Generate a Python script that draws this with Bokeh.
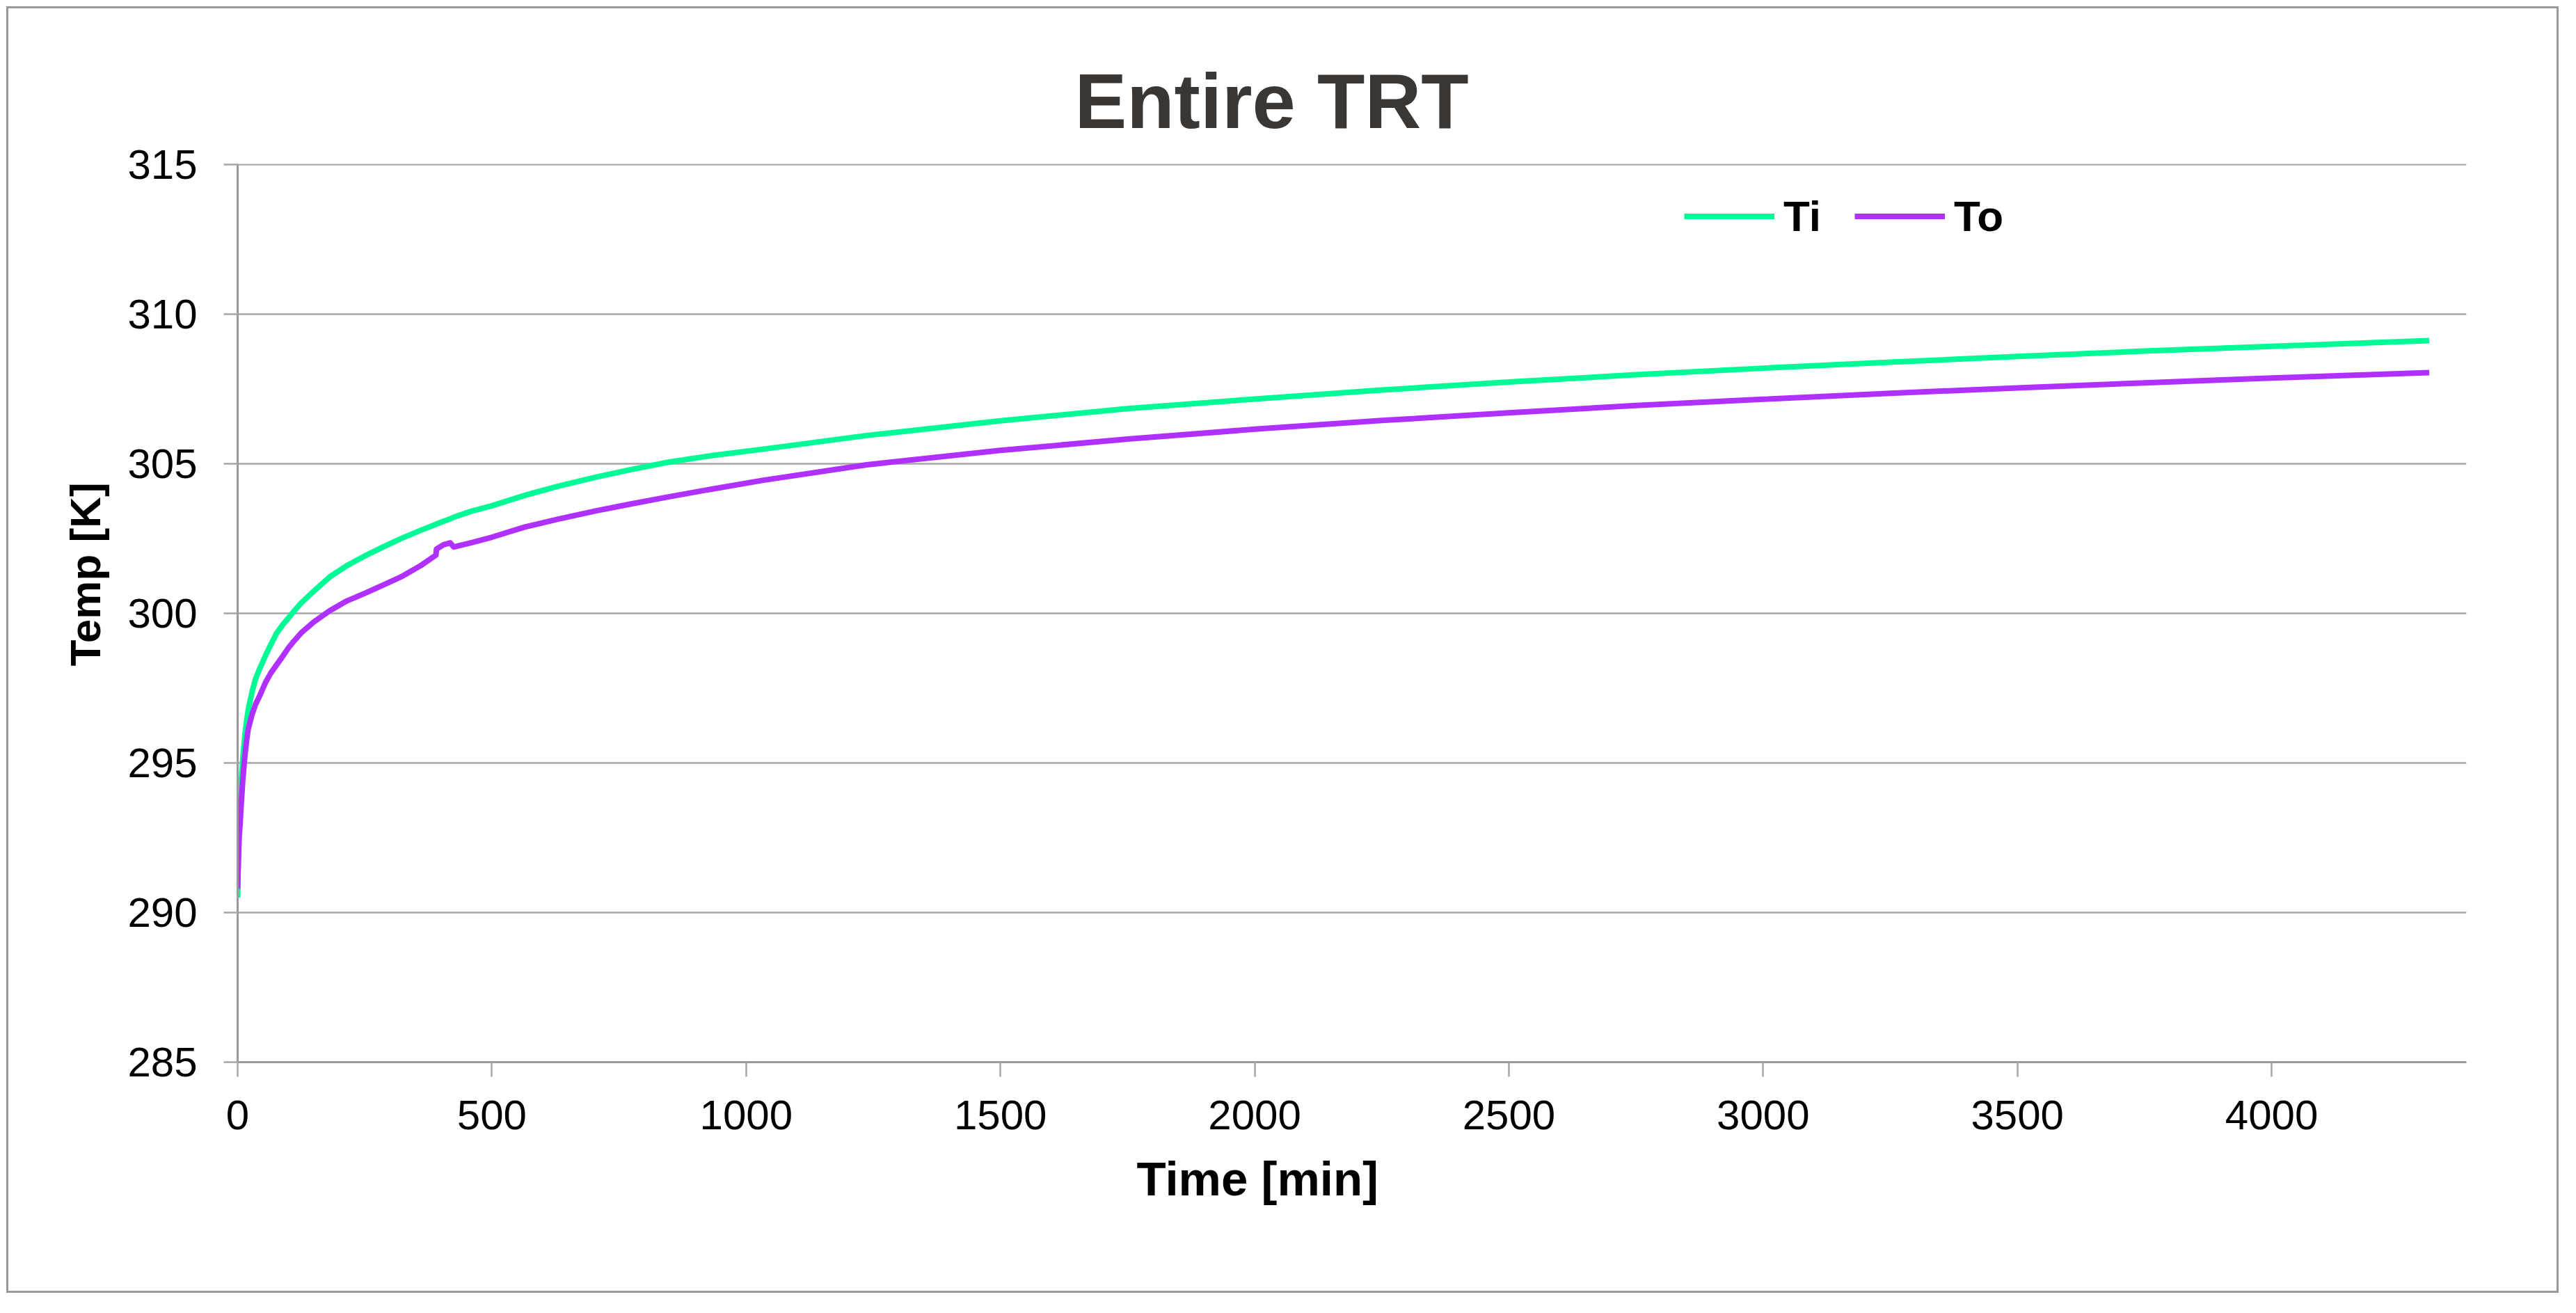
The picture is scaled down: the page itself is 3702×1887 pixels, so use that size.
from bokeh.plotting import figure
from bokeh.models import Range1d, Legend, LegendItem, Title
from bokeh.embed import file_html
from bokeh.resources import INLINE

# ---- data ----
time_min = [0, 1, 2, 3, 5, 7, 10, 14, 18, 21, 28, 35, 42, 55, 65, 77, 90, 100, 112, 125,
            150, 181, 215, 251, 286, 321, 360, 390, 391, 405, 418, 425, 460, 500, 565,
            630, 705, 770, 845, 930, 1032, 1237, 1500, 1750, 2000, 2250, 2500, 2750,
            3000, 3250, 3500, 3750, 4000, 4150, 4310]
ti = [290.5, 291.7, 292.6, 293.2, 293.8, 294.35, 295.1, 295.9, 296.45, 296.8, 297.35,
      297.8, 298.1, 298.6, 298.95, 299.35, 299.65, 299.85, 300.1, 300.35, 300.75,
      301.22, 301.6, 301.93, 302.22, 302.5, 302.78, 302.98, 302.99, 303.08, 303.16,
      303.22, 303.42, 303.6, 303.95, 304.25, 304.56, 304.8, 305.05, 305.27, 305.49,
      305.95, 306.44, 306.85, 307.17, 307.47, 307.74, 307.98, 308.2, 308.4, 308.59,
      308.77, 308.93, 309.02, 309.12]
to = [290.8, 291.4, 292.0, 292.5, 293.0, 293.6, 294.4, 295.2, 295.8, 296.15, 296.6,
      296.95, 297.2, 297.7, 298.0, 298.29, 298.6, 298.85, 299.1, 299.35, 299.72,
      300.09, 300.42, 300.68, 300.95, 301.22, 301.6, 301.95, 302.15, 302.3, 302.36,
      302.22, 302.37, 302.55, 302.89, 303.15, 303.43, 303.65, 303.89, 304.15, 304.45,
      304.97, 305.45, 305.83, 306.16, 306.45, 306.71, 306.95, 307.16, 307.36, 307.54,
      307.71, 307.87, 307.96, 308.05]
x_ticks = [0, 500, 1000, 1500, 2000, 2500, 3000, 3500, 4000]
y_ticks = [285, 290, 295, 300, 305, 310, 315]
series_names = ["Ti", "To"]
colors = ["#00FA96", "#B030FF"]

W, H = 3668, 1849
p = figure(width=W, height=H, output_backend="svg", toolbar_location=None,
           x_range=Range1d(0, 4383), y_range=Range1d(285, 315.03),
           min_border_left=329, min_border_right=136,
           min_border_top=223, min_border_bottom=335)
p.margin = (9, 0, 0, 9)
p.styles = {"border": "3px solid #999999", "box-sizing": "border-box"}
p.outline_line_color = None
p.background_fill_color = "white"
p.border_fill_color = "white"

p.xgrid.visible = False
p.ygrid.grid_line_color = "#A6A6A6"
p.ygrid.grid_line_width = 2.5
p.ygrid.ticker = y_ticks

for ax in (p.xaxis[0], p.yaxis[0]):
    ax.axis_line_color = "#9A9A9A"
    ax.axis_line_width = 3
    ax.major_tick_line_color = "#A6A6A6"
    ax.major_tick_line_width = 2.5
    ax.major_tick_in = 0
    ax.minor_tick_line_color = None
    ax.major_label_text_font = "Liberation Sans"
    ax.major_label_text_color = "black"

p.xaxis.ticker = x_ticks
p.xaxis.major_tick_out = 21
p.xaxis.major_label_standoff = 34
p.xaxis.major_label_text_font_size = "60px"

p.yaxis.ticker = y_ticks
p.yaxis.major_tick_out = 20
p.yaxis.major_label_standoff = 38
p.yaxis.major_label_text_font_size = "60px"

r1 = p.line(time_min, ti, line_color=colors[0], line_width=8, line_join="round")
r2 = p.line(time_min, to, line_color=colors[1], line_width=8, line_join="round")

legend = Legend(items=[LegendItem(label=series_names[0], renderers=[r1]),
                       LegendItem(label=series_names[1], renderers=[r2])],
                orientation="horizontal", location=(2079, 1180),
                glyph_width=130, glyph_height=71, label_standoff=13, spacing=48,
                padding=0, margin=0, border_line_color=None, background_fill_alpha=0,
                label_text_font="Liberation Sans", label_text_font_style="bold",
                label_text_font_size="62px", label_text_color="black")
p.add_layout(legend)

p.title = Title(text="Entire TRT", align="left", offset=1203, standoff=56,
                text_font="Liberation Sans", text_font_style="bold",
                text_font_size="112px", text_color="#3A3634")

p.add_layout(Title(text="Time [min]", align="left", offset=1292, standoff=56,
                   text_font="Liberation Sans", text_font_style="bold",
                   text_font_size="69px", text_color="black"), "below")

p.add_layout(Title(text="Temp [K]", align="left", offset=569, standoff=47,
                   text_font="Liberation Sans", text_font_style="bold",
                   text_font_size="62px", text_color="black"), "left")

open("out.html", "w").write(file_html(p, INLINE))
